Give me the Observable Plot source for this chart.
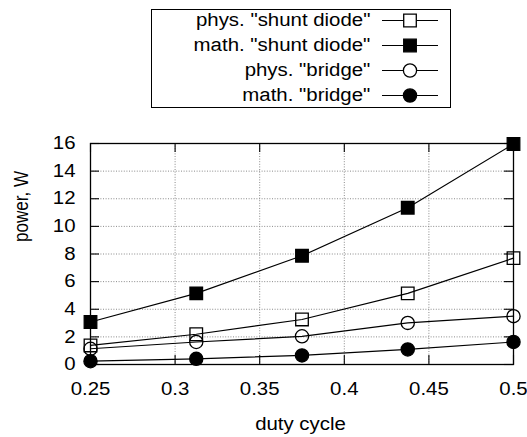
<!DOCTYPE html>
<html><head><meta charset="utf-8">
<script src="https://cdn.jsdelivr.net/npm/d3@7"></script>
<script src="https://cdn.jsdelivr.net/npm/@observablehq/plot@0.6"></script>
<style>
body{margin:0;background:#fff;font-family:"Liberation Sans",Arial,sans-serif;}
#wrap{position:relative;width:527px;height:437px;overflow:hidden;background:#fff;}
#legend{position:absolute;left:151px;top:9px;width:300px;height:99px;box-sizing:border-box;border:1px solid #000;background:#fff;}
.row{position:absolute;left:0;width:298px;height:25px;}
.row span{position:absolute;right:80px;top:0;line-height:25px;font-size:17.6px;white-space:nowrap;transform:scaleX(1.16);transform-origin:right center;color:#000;}
.row svg{position:absolute;left:230px;top:0;}
</style>
</head><body>
<div id="wrap"><div id="plot"></div><div id="legend"></div></div>
<script>
// ---- data ----
const duty = [0.25, 0.3125, 0.375, 0.4375, 0.5];
const physShunt = [1.38, 2.19, 3.26, 5.15, 7.7];
const mathShunt = [3.08, 5.15, 7.87, 11.35, 15.96];
const physBridge = [1.14, 1.63, 2.04, 3.01, 3.5];
const mathBridge = [0.24, 0.41, 0.66, 1.09, 1.63];
const seriesNames = ['phys. "shunt diode"', 'math. "shunt diode"', 'phys. "bridge"', 'math. "bridge"'];
const xTicks = [0.25, 0.3, 0.35, 0.4, 0.45, 0.5];
const yTicks = [0, 2, 4, 6, 8, 10, 12, 14, 16];
const xLabel = "duty cycle";
const yLabel = "power, W";

// ---- styles per series ----
const seriesValues = [physShunt, mathShunt, physBridge, mathBridge];
const seriesSymbol = ["square", "square", "circle", "circle"];
const seriesFill = ["none", "black", "none", "black"];
const seriesR = [7.1, 7.1, 6.6, 6.6];

const rows = seriesNames.flatMap((name, k) => duty.map((x, i) => ({series: name, k, x, y: seriesValues[k][i]})));

const W = 527, H = 437;
const mL = 90, mR = 14, mT = 143, mB = 73;
const pW = W - mL - mR, pH = H - mT - mB;
const tickLen = 9;

const marks = [
  Plot.gridY(yTicks, {stroke: "#8a8a8a", strokeOpacity: 1, strokeWidth: 1, strokeDasharray: "1,1.6"}),
  Plot.gridX(xTicks, {stroke: "#8a8a8a", strokeOpacity: 1, strokeWidth: 1, strokeDasharray: "1,1.6"}),
  Plot.tickX(xTicks, {x: d => d, insetTop: pH - tickLen, stroke: "black", strokeWidth: 1.1}),
  Plot.tickX(xTicks, {x: d => d, insetBottom: pH - tickLen, stroke: "black", strokeWidth: 1.1}),
  Plot.tickY(yTicks, {y: d => d, insetRight: pW - tickLen, stroke: "black", strokeWidth: 1.1}),
  Plot.tickY(yTicks, {y: d => d, insetLeft: pW - tickLen, stroke: "black", strokeWidth: 1.1}),
  Plot.frame({stroke: "black", strokeWidth: 1.3}),
  Plot.axisX(xTicks, {tickSize: 0, tickPadding: 18, label: null, tickFormat: d => String(d), fill: "black"}),
  Plot.axisY(yTicks, {tickSize: 0, tickPadding: 15, label: null, tickFormat: d => String(d), fill: "black"}),
  Plot.line(rows, {x: "x", y: "y", z: "series", stroke: "black", strokeWidth: 1.2}),
  ...seriesNames.map((name, k) => Plot.dot(rows.filter(d => d.k === k), {
    x: "x", y: "y", symbol: seriesSymbol[k], r: seriesR[k], fill: seriesFill[k], stroke: "black", strokeWidth: 1.3
  })),
  Plot.text([xLabel], {frameAnchor: "bottom", dx: -1.5, dy: 60, lineAnchor: "middle", fontSize: 17.6, fill: "black"}),
  Plot.text([yLabel], {frameAnchor: "left", rotate: -90, dx: -77, dy: -12, lineAnchor: "top", fontSize: 19.8, fill: "black"})
];

const chart = Plot.plot({
  width: W, height: H,
  marginLeft: mL, marginRight: mR, marginTop: mT, marginBottom: mB,
  x: {domain: [0.25, 0.5]},
  y: {domain: [0, 16]},
  style: {fontFamily: "'Liberation Sans', Arial, sans-serif", fontSize: "17.6px", color: "black", background: "white"},
  marks
});
document.getElementById("plot").appendChild(chart);

// horizontal stretch of text to match the reference rendering
chart.querySelectorAll("text").forEach(t => {
  const tr = t.getAttribute("transform") || "";
  const w = t.getComputedTextLength();
  if (!(w > 0)) return;
  // rotated label: the reference is widened across its height, so compress its length instead
  const f = tr.includes("rotate") ? 1 / 1.16 : 1.16;
  t.setAttribute("textLength", (w * f).toFixed(2));
  t.setAttribute("lengthAdjust", "spacingAndGlyphs");
});

// legend
const legend = document.getElementById("legend");
seriesNames.forEach((name, k) => {
  const row = document.createElement("div");
  row.className = "row";
  row.style.top = (-2 + 25 * k) + "px";
  const span = document.createElement("span");
  span.textContent = name;
  row.appendChild(span);
  const ns = "http://www.w3.org/2000/svg";
  const s = document.createElementNS(ns, "svg");
  s.setAttribute("width", 56); s.setAttribute("height", 25);
  const ln = document.createElementNS(ns, "line");
  ln.setAttribute("x1", 0); ln.setAttribute("x2", 56); ln.setAttribute("y1", 12.5); ln.setAttribute("y2", 12.5);
  ln.setAttribute("stroke", "black"); ln.setAttribute("stroke-width", 1.2);
  s.appendChild(ln);
  const sym = document.createElementNS(ns, "path");
  const symType = seriesSymbol[k] === "square" ? d3.symbolSquare : d3.symbolCircle;
  sym.setAttribute("d", d3.symbol(symType, Math.PI * seriesR[k] * seriesR[k])());
  sym.setAttribute("transform", "translate(28,12.5)");
  sym.setAttribute("fill", seriesFill[k] === "none" ? "white" : "black");
  sym.setAttribute("stroke", "black"); sym.setAttribute("stroke-width", 1.3);
  s.appendChild(sym);
  row.appendChild(s);
  legend.appendChild(row);
});
</script>
</body></html>
